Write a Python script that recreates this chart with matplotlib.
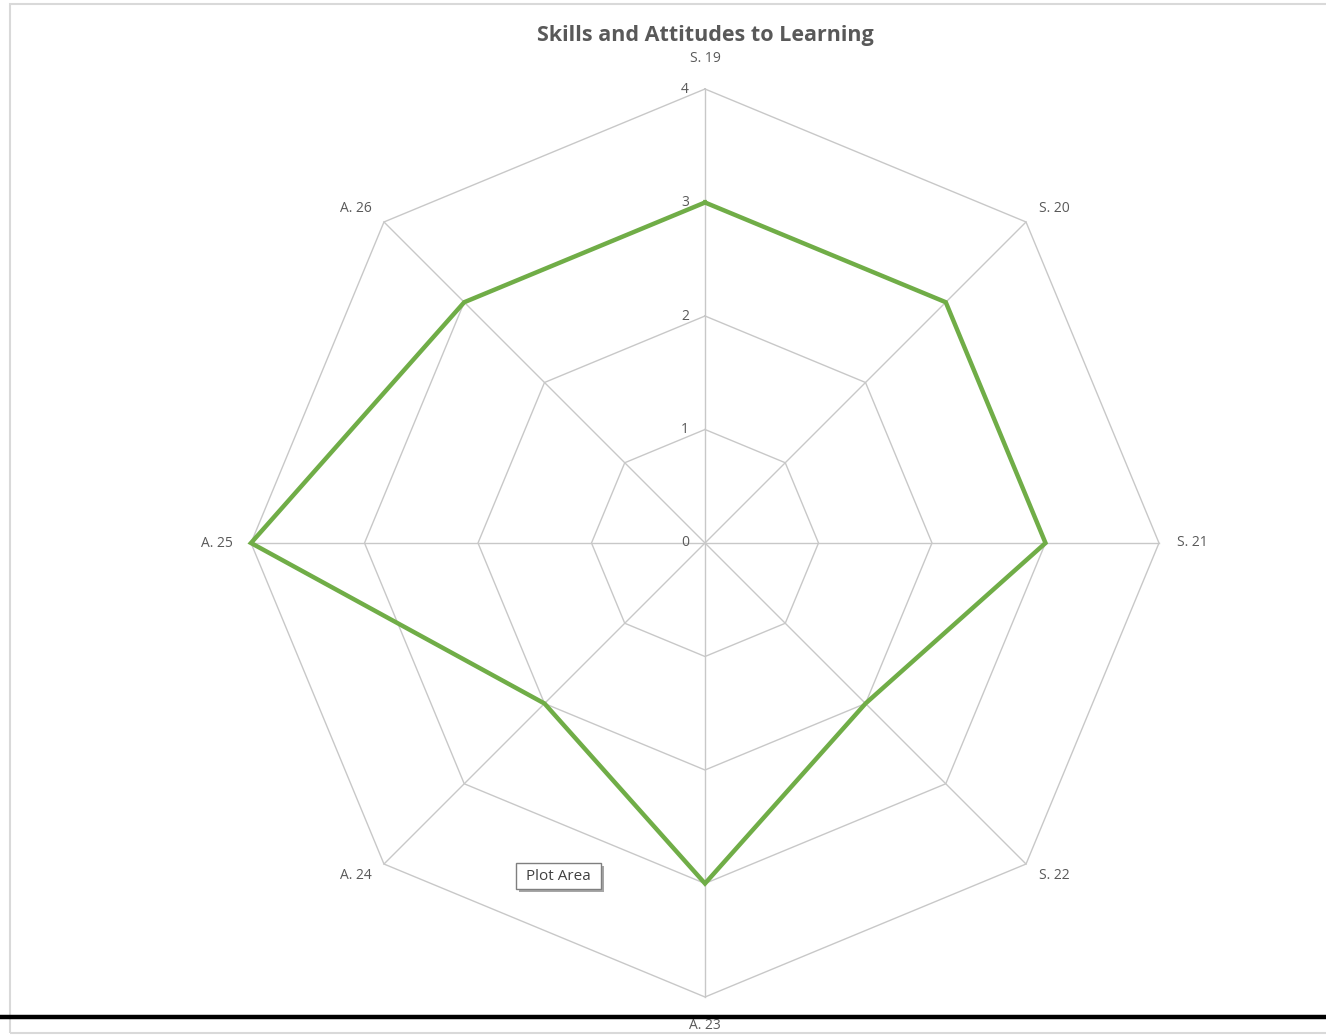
import numpy as np
import matplotlib
matplotlib.use("Agg")
import matplotlib.pyplot as plt
from matplotlib.patches import Rectangle
from matplotlib.lines import Line2D

categories = ["S. 19", "S. 20", "S. 21", "S. 22", "A. 23", "A. 24", "A. 25", "A. 26"]
values = [3, 3, 3, 2, 3, 2, 4, 3]
ticks = [0, 1, 2, 3, 4]
title = "Skills and Attitudes to Learning"

W, H = 1326, 1035
cx, cy = 705, 543
unit = 113.5

fig = plt.figure(figsize=(W / 100, H / 100), dpi=100)
ax = fig.add_axes([0, 0, 1, 1])
ax.set_xlim(-cx / unit, (W - cx) / unit)
ax.set_ylim(-(H - cy) / unit, cy / unit)
ax.axis("off")

n = len(categories)
ang = np.pi / 2 - 2 * np.pi * np.arange(n) / n
ux, uy = np.cos(ang), np.sin(ang)

grid_c = "#C8C8C8"
rmax = max(ticks)
for t in ticks[1:]:
    ax.plot(np.append(ux, ux[0]) * t, np.append(uy, uy[0]) * t, color=grid_c, lw=1.0, zorder=1)
for i in range(n):
    ax.plot([0, ux[i] * rmax], [0, uy[i] * rmax], color=grid_c, lw=1.0, zorder=1)

v = np.array(values, dtype=float)
ax.plot(np.append(ux * v, ux[0] * v[0]), np.append(uy * v, uy[0] * v[0]),
        color="#70AD47", lw=3.2, zorder=3, solid_joinstyle="miter")

fam = ["Open Sans", "DejaVu Sans"]
tc = "#595959"
fs = 10
for t in ticks:
    ax.text(-0.14, t, str(t), ha="right", va="center", fontsize=fs, color=tc, family=fam)

for i, lab in enumerate(categories):
    x, y = ux[i] * rmax, uy[i] * rmax
    if abs(ux[i]) < 1e-6:
        dy = 0.27 if uy[i] > 0 else -0.25
        ax.text(x, y + dy, lab, ha="center", va="center", fontsize=fs, color=tc, family=fam)
    else:
        if abs(uy[i]) < 0.1:
            dx, dy = 0.16, 0.0
        elif uy[i] > 0:
            dx, dy = 0.11, 0.12
        else:
            dx, dy = 0.11, -0.10
        if ux[i] > 0:
            ax.text(x + dx, y + dy, lab, ha="left", va="center", fontsize=fs, color=tc, family=fam)
        else:
            ax.text(x - dx, y + dy, lab, ha="right", va="center", fontsize=fs, color=tc, family=fam)

fig.text(705 / W, 1 - 35 / H, title, ha="center", va="center", fontsize=15.5,
         fontweight="bold", color=tc, family=fam)

# Plot Area tooltip (with shadow)
bx0, by0, bx1, by1 = 516, 863, 601, 889
fig.add_artist(Rectangle(((bx0 + 3) / W, 1 - (by1 + 3) / H), (bx1 - bx0) / W, (by1 - by0) / H,
                         transform=fig.transFigure, fc="#A6A6A6", ec="none", zorder=5))
fig.add_artist(Rectangle((bx0 / W, 1 - by1 / H), (bx1 - bx0) / W, (by1 - by0) / H,
                         transform=fig.transFigure, fc="white", ec="#7F7F7F", lw=1.0, zorder=6))
fig.text((bx0 + bx1) / 2 / W, 1 - (by0 + by1) / 2 / H, "Plot Area", ha="center", va="center",
         fontsize=11, color="#404040", family=fam, zorder=7)

# chart border
fig.add_artist(Rectangle((10 / W, 1 - 1033 / H), (W + 20) / W, (1033 - 4) / H,
                         transform=fig.transFigure, fill=False, ec="#D9D9D9", lw=1.5))
# thick black line
fig.add_artist(Line2D([0, 1], [1 - 1017 / H, 1 - 1017 / H], transform=fig.transFigure,
                      color="black", lw=3.2))

fig.savefig("out.png", dpi=100, facecolor="white")
